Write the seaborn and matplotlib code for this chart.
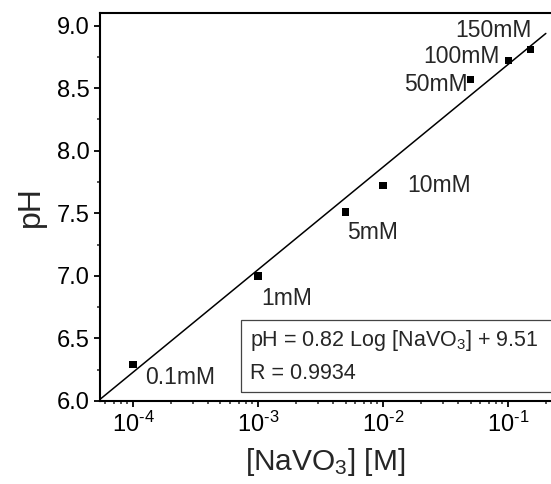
import numpy as np
import pandas as pd
import matplotlib as mpl
import matplotlib.pyplot as plt
import matplotlib.patches as m_patches
import seaborn as sns

# NaVO3 concentration (M) and measured pH
conc = [1e-4, 1e-3, 5e-3, 1e-2, 5e-2, 1e-1, 1.5e-1]
ph = [6.29, 7.00, 7.51, 7.72, 8.57, 8.72, 8.81]
point_labels = ["0.1mM", "1mM", "5mM", "10mM", "50mM", "100mM", "150mM"]
x_ticks = [1e-4, 1e-3, 1e-2, 1e-1]
x_tick_labels = [r"10$^{\text{-}4}$", r"10$^{\text{-}3}$", r"10$^{\text{-}2}$", r"10$^{\text{-}1}$"]
y_ticks = [6.0, 6.5, 7.0, 7.5, 8.0, 8.5, 9.0]

# linear fit from the legend: pH = 0.82 Log [NaVO3] + 9.51
fit_slope = 0.82
fit_intercept = 9.51
fit_range = [5.5e-5, 0.2]
fit_r = 0.9934

sns.set_theme(style="ticks")
mpl.rcParams["font.family"] = ["Liberation Sans", "DejaVu Sans"]
mpl.rcParams["mathtext.fontset"] = "custom"
mpl.rcParams["mathtext.rm"] = "Liberation Sans"
mpl.rcParams["mathtext.it"] = "Liberation Sans:italic"
mpl.rcParams["mathtext.bf"] = "Liberation Sans:bold"

fig = plt.figure(figsize=(5.51, 4.84), dpi=100)
ax = fig.add_axes([0.1815, 0.1715, 0.8185, 0.8016])

df = pd.DataFrame({"conc": conc, "pH": ph})
fit_df = pd.DataFrame({"conc": fit_range})
fit_df["pH"] = fit_slope * np.log10(fit_df["conc"]) + fit_intercept

sns.lineplot(data=fit_df, x="conc", y="pH", ax=ax, color="black", linewidth=1.1)
sns.scatterplot(data=df, x="conc", y="pH", ax=ax, marker="s", color="black",
                s=28, edgecolor="none", zorder=3)

ax.set_xscale("log")
ax.set_xlim(5.44e-5, 0.22)
ax.set_ylim(6.0, 9.1)
ax.set_yticks(y_ticks)
ax.set_yticklabels([f"{v:.1f}" for v in y_ticks])
ax.yaxis.set_minor_locator(mpl.ticker.MultipleLocator(0.25))
ax.set_xticks(x_ticks)
ax.set_xticklabels(x_tick_labels)

# label offsets in points (dx, dy, ha, va)
offsets = [
    (9, -9, "left", "center"),
    (2, -16, "left", "center"),
    (1, -15, "left", "center"),
    (17, 0, "left", "center"),
    (-2, -4, "right", "center"),
    (-6, 3, "right", "center"),
    (1, 5, "right", "bottom"),
]
for x, y, lab, (dx, dy, ha, va) in zip(conc, ph, point_labels, offsets):
    ax.annotate(lab, (x, y), xytext=(dx, dy), textcoords="offset points",
                ha=ha, va=va, fontsize=16.5)

box = m_patches.Rectangle((0.3126, 0.0232), 0.69, 0.1856, transform=ax.transAxes,
                          fill=False, edgecolor="#444444", linewidth=0.9,
                          clip_on=False, zorder=2)
ax.add_patch(box)
ax.text(0.333, 0.157, r"pH = 0.82 Log [NaVO$_3$] + 9.51", transform=ax.transAxes,
        fontsize=15.5, va="center", ha="left")
ax.text(0.333, 0.072, f"R = {fit_r}", transform=ax.transAxes,
        fontsize=15.5, va="center", ha="left")

ax.set_xlabel(r"[NaVO$_3$] [M]", fontsize=21.5, labelpad=7)
ax.set_ylabel("pH", fontsize=23, labelpad=8)

for side in ["left", "bottom", "top"]:
    ax.spines[side].set_linewidth(1.5)
    ax.spines[side].set_color("black")
ax.spines["right"].set_visible(False)
ax.tick_params(axis="both", which="major", direction="out", length=4, width=1.3,
               labelsize=17, colors="black", top=False, right=False)
ax.tick_params(axis="both", which="minor", direction="out", length=2.5, width=1.1,
               top=False, right=False)

plt.savefig("out.png", dpi=100)
